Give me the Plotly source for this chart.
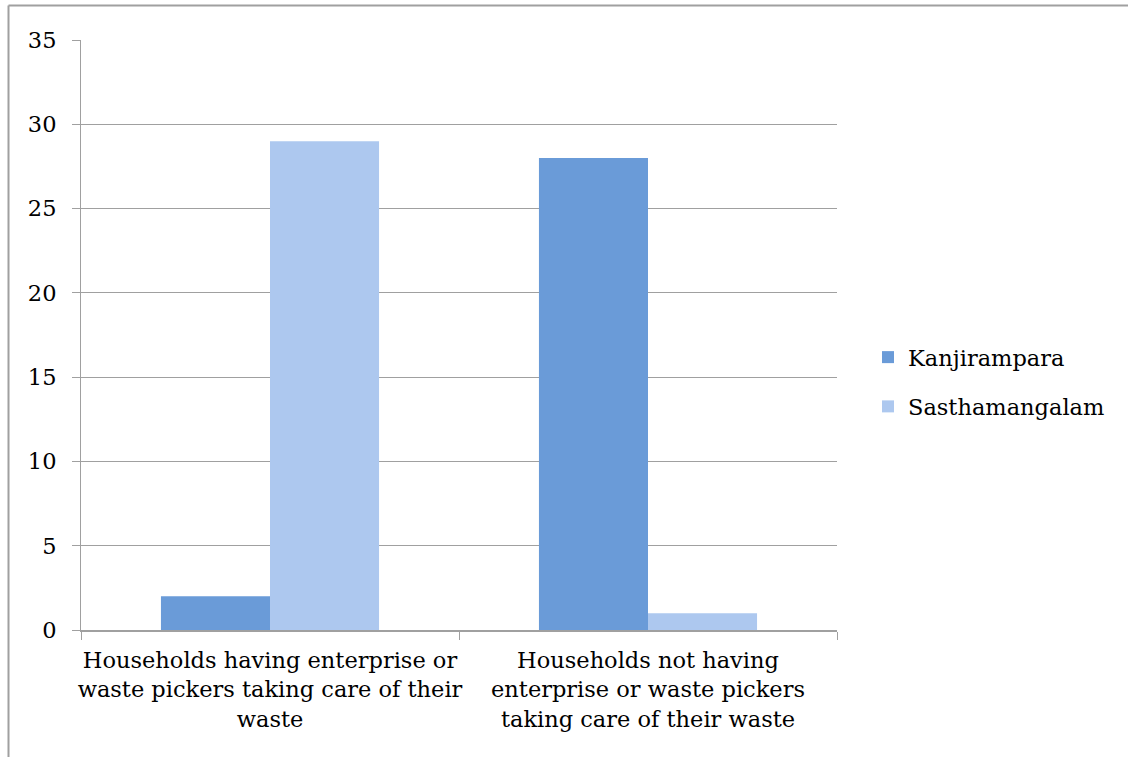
import plotly.graph_objects as go

categories = [
    "Households having enterprise or<br>waste pickers taking care of their<br>waste",
    "Households not having<br>enterprise or waste pickers<br>taking care of their waste",
]
kanjirampara = [2, 28]
sasthamangalam = [29, 1]
y_ticks = [0, 5, 10, 15, 20, 25, 30, 35]

FONT = "DejaVu Serif"
FS = 22.5
W, H = 1128, 757
L, R, T, B = 81, 837, 40, 630

fig = go.Figure()
fig.add_trace(go.Bar(name="Kanjirampara", x=categories, y=kanjirampara,
                     marker=dict(color="#6a9bd8", line=dict(width=0)), legendgroup="a"))
fig.add_trace(go.Bar(name="Sasthamangalam", x=categories, y=sasthamangalam,
                     marker=dict(color="#adc8ef", line=dict(width=0)), legendgroup="b"))

px = lambda v: (v - L) / (R - L)
py = lambda v: (B - v) / (B - T)

fig.update_layout(
    width=W, height=H,
    margin=dict(l=L, r=W - R, t=T, b=H - B, pad=0),
    paper_bgcolor="white", plot_bgcolor="white",
    font=dict(family=FONT, size=FS, color="#000000"),
    barmode="group", bargap=0.423, bargroupgap=0,
    showlegend=True,
    legend=dict(x=px(868), y=py(382), xanchor="left", yanchor="middle",
                tracegroupgap=17, itemwidth=30, font=dict(size=FS),
                bgcolor="rgba(0,0,0,0)"),
    xaxis=dict(showline=True, linecolor="#a0a0a0", linewidth=2,
               ticks="outside", tickson="boundaries", ticklen=8, tickcolor="#a0a0a0",
               tickwidth=1, showgrid=False, tickangle=0, ticklabelstandoff=9),
    yaxis=dict(range=[0, 35], tickvals=y_ticks, showline=True, linecolor="#a0a0a0",
               linewidth=1, ticks="outside", ticklen=8, tickcolor="#a0a0a0",
               showgrid=True, gridcolor="#a0a0a0", gridwidth=1, zeroline=False,
               ticklabelstandoff=11),
    shapes=[
        dict(type="line", xref="paper", yref="paper", x0=px(8.5), x1=px(1130),
             y0=py(5.5), y1=py(5.5), line=dict(color="#a0a0a0", width=2)),
        dict(type="line", xref="paper", yref="paper", x0=px(8.5), x1=px(8.5),
             y0=py(5.5), y1=py(760), line=dict(color="#a0a0a0", width=2)),
    ],
)

fig.write_html("out.html")
